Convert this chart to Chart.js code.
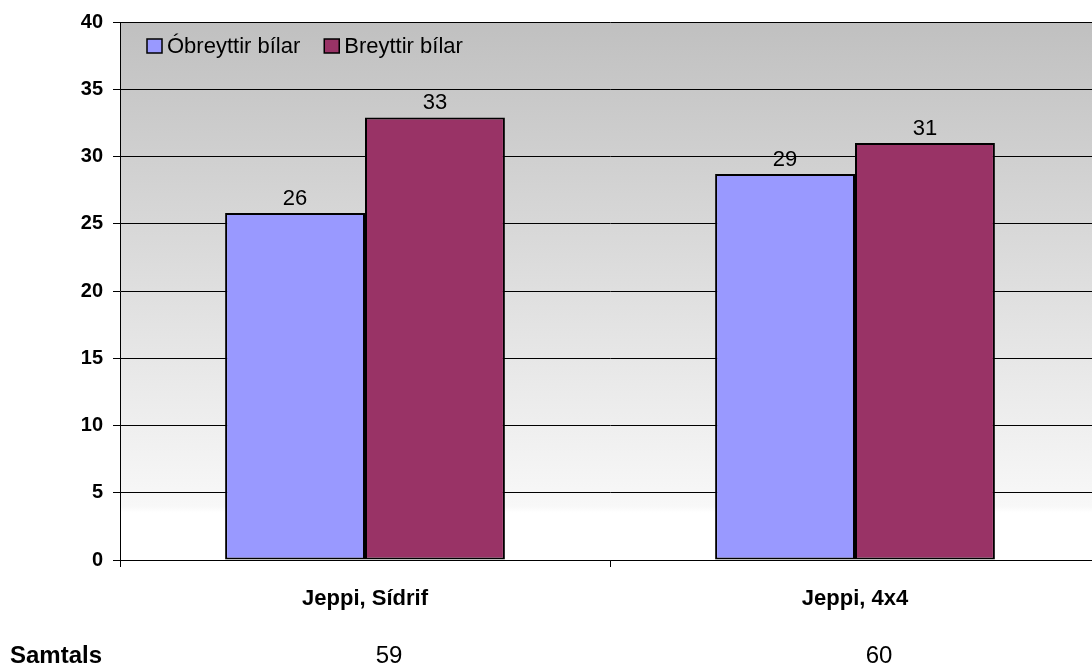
<!DOCTYPE html>
<html>
<head>
<meta charset="utf-8">
<script src="https://cdn.jsdelivr.net/npm/chart.js@4"></script>
<style>
  html, body { margin: 0; padding: 0; background: #fff; overflow: hidden; }
  #wrap { width: 1100px; height: 669px; }
</style>
</head>
<body>
<div id="wrap"><canvas id="bilarChart"></canvas></div>
<script>
const categories = ['Jeppi, Sídrif', 'Jeppi, 4x4'];
const obreyttir = [25.8, 28.7];
const breyttir = [32.9, 31.0];
const totals = [59, 60];
const yMin = 0, yMax = 40, yStep = 5;

const FONT = 'Arial, "Liberation Sans", sans-serif';

// gray-to-white fill behind the plot
const plotBackground = {
  id: 'plotBackground',
  beforeDraw(chart) {
    const { ctx, chartArea: a } = chart;
    const g = ctx.createLinearGradient(0, a.top, 0, a.bottom);
    g.addColorStop(0, '#c0c0c0');
    g.addColorStop(0.9, '#f8f8f8');
    g.addColorStop(0.912, '#ffffff');
    g.addColorStop(1, '#ffffff');
    ctx.save();
    ctx.fillStyle = g;
    ctx.fillRect(a.left, a.top, a.right - a.left, a.bottom - a.top);
    ctx.restore();
  }
};

// value labels, legend and the "Samtals" row
const extras = {
  id: 'extras',
  afterDraw(chart) {
    const { ctx, chartArea: a } = chart;
    ctx.save();
    ctx.fillStyle = '#000';
    ctx.font = '22px ' + FONT;
    ctx.textAlign = 'center';
    ctx.textBaseline = 'alphabetic';
    chart.data.datasets.forEach((ds, i) => {
      chart.getDatasetMeta(i).data.forEach((bar, j) => {
        ctx.fillText(Math.round(ds.data[j]), bar.x, bar.y - 8);
      });
    });

    // legend inside the plot, top left
    let x = a.left + 27;
    const y = a.top + 17;
    chart.data.datasets.forEach(ds => {
      ctx.fillStyle = ds.backgroundColor;
      ctx.fillRect(x, y, 15, 14);
      ctx.strokeStyle = '#000';
      ctx.lineWidth = 1.5;
      ctx.strokeRect(x, y, 15, 14);
      ctx.fillStyle = '#000';
      ctx.textAlign = 'left';
      ctx.fillText(ds.label, x + 20, y + 14);
      x += 20 + ctx.measureText(ds.label).width + 24;
    });

    // totals row
    const xs = chart.scales.x;
    ctx.font = 'bold 24px ' + FONT;
    ctx.textAlign = 'left';
    ctx.fillText('Samtals', 10, 663);
    ctx.font = '24px ' + FONT;
    ctx.textAlign = 'center';
    totals.forEach((t, i) => {
      ctx.fillText(t, xs.getPixelForValue(i) + 24, 663);
    });
    ctx.restore();
  }
};

const chart = new Chart(document.getElementById('bilarChart').getContext('2d'), {
  type: 'bar',
  data: {
    labels: categories,
    datasets: [
      {
        label: 'Óbreyttir bílar',
        data: obreyttir,
        backgroundColor: '#9999ff',
        borderColor: '#000',
        borderWidth: 2,
        borderSkipped: false
      },
      {
        label: 'Breyttir bílar',
        data: breyttir,
        backgroundColor: '#993366',
        borderColor: '#000',
        borderWidth: 2,
        borderSkipped: false
      }
    ]
  },
  options: {
    responsive: true,
    maintainAspectRatio: false,
    animation: false,
    categoryPercentage: 0.571,
    barPercentage: 1.0,
    layout: { padding: { top: 21, left: 0, right: 0, bottom: 0 } },
    scales: {
      y: {
        min: yMin,
        max: yMax,
        afterFit(scale) { scale.width = 120; },
        ticks: {
          stepSize: yStep,
          color: '#000',
          padding: 10,
          font: { family: FONT, size: 20, weight: 'bold' }
        },
        grid: { color: '#000', lineWidth: 1, tickLength: 7 },
        border: { display: true, color: '#000', width: 1 }
      },
      x: {
        afterFit(scale) { scale.height = 109; },
        ticks: {
          color: '#000',
          padding: 19,
          font: { family: FONT, size: 22, weight: 'bold' }
        },
        grid: { offset: true, drawOnChartArea: false, color: '#000', tickLength: 7 },
        border: { display: true, color: '#000', width: 1 }
      }
    },
    plugins: {
      legend: { display: false },
      tooltip: { enabled: false }
    }
  },
  plugins: [plotBackground, extras]
});
</script>
</body>
</html>
